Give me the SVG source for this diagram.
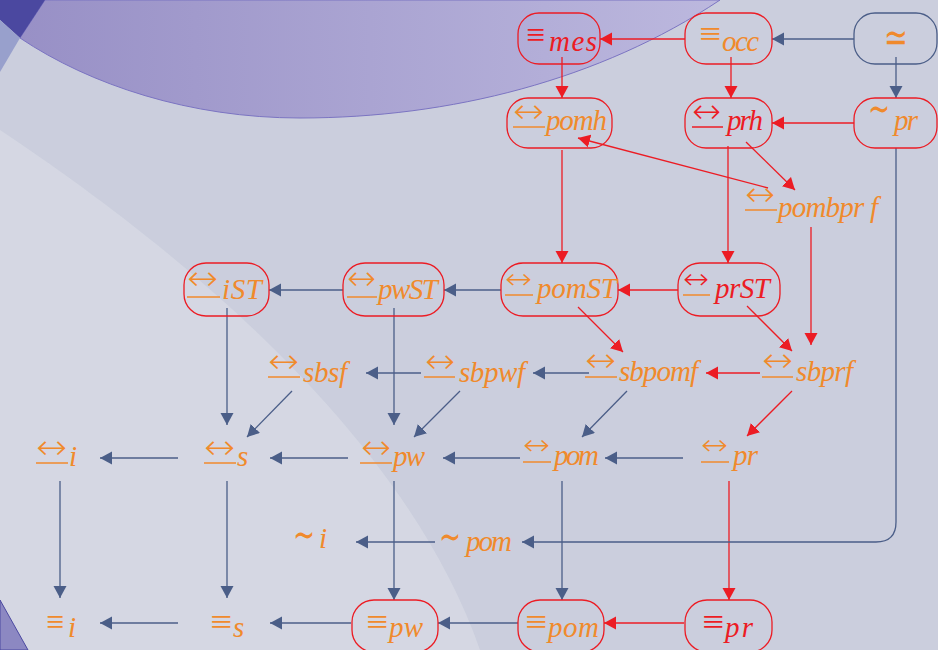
<svg xmlns="http://www.w3.org/2000/svg" width="938" height="650" viewBox="0 0 938 650">
<style>
.t{font-family:"Liberation Serif","Times New Roman",serif;font-style:italic;font-size:29px}
.ar{font-family:"DejaVu Sans",sans-serif;font-style:normal;font-weight:200;font-size:34px}
.ar2{font-family:"DejaVu Sans",sans-serif;font-style:normal;font-weight:200;font-size:29px}
.sy{font-family:"Liberation Serif","DejaVu Sans",serif;font-style:normal;font-size:34px}
.tl{font-family:"DejaVu Sans",sans-serif;font-style:normal;font-size:40px}
.o{fill:#f08a2c}
.r{fill:#ec1c24}
.ulo{stroke:#f08a2c;stroke-width:1.5}
.ulr{stroke:#ec1c24;stroke-width:1.5}
.box{fill:none;stroke:#ec1c24;stroke-width:1.3}
.boxb{fill:none;stroke:#4b5e88;stroke-width:1.3}
.cr{fill:none;stroke:#ec1c24;stroke-width:1.3;marker-end:url(#mr)}
.cb{fill:none;stroke:#4b5e88;stroke-width:1.3;marker-end:url(#mb)}
</style>
<defs>
<marker id="mr" markerUnits="userSpaceOnUse" markerWidth="13" markerHeight="14" refX="12" refY="6.5" orient="auto"><path d="M0,0 L12,6.5 L0,13 Z" fill="#ec1c24"/></marker>
<marker id="mb" markerUnits="userSpaceOnUse" markerWidth="13" markerHeight="14" refX="12" refY="6.5" orient="auto"><path d="M0,0 L12,6.5 L0,13 Z" fill="#4b5e88"/></marker>
<linearGradient id="pg" x1="0" y1="0" x2="1" y2="0"><stop offset="0" stop-color="#9890c6"/><stop offset="1" stop-color="#bcb8de"/></linearGradient>
</defs>
<g id="background">
<rect x="0" y="0" width="938" height="650" fill="#cbcedd"/>
<path d="M0,130 C150,230 400,420 480,650 L0,650 Z" fill="#d9dbe6" opacity="0.7"/>
<path d="M45,0 L20,38 C90,85 190,118 300,118 C450,118 600,80 720,0 Z" fill="url(#pg)" stroke="#7b74c2" stroke-width="1"/>
<polygon points="0,0 45,0 20,38 0,20" fill="#4b48a0"/>
<polygon points="0,20 20,38 0,72" fill="#98a0cc"/>
<polygon points="0,600 28,650 0,650" fill="#8c88c2" stroke="#4b48a0" stroke-width="1"/>
</g>
<g id="connectors">
<line class="cr" x1="685" y1="39" x2="600" y2="39"/>
<line class="cr" x1="562" y1="57" x2="562" y2="98"/>
<line class="cr" x1="731" y1="57" x2="731" y2="98"/>
<line class="cr" x1="854" y1="123" x2="772" y2="123"/>
<line class="cr" x1="746" y1="142" x2="795" y2="190"/>
<line class="cr" x1="768" y1="188" x2="578" y2="138"/>
<line class="cr" x1="562" y1="150" x2="562" y2="263"/>
<line class="cr" x1="728" y1="146" x2="728" y2="263"/>
<line class="cr" x1="811" y1="227" x2="811" y2="345"/>
<line class="cr" x1="678" y1="290" x2="618" y2="290"/>
<line class="cr" x1="578" y1="307" x2="623" y2="352"/>
<line class="cr" x1="747" y1="306" x2="792" y2="351"/>
<line class="cr" x1="760" y1="373" x2="706" y2="373"/>
<line class="cr" x1="792" y1="391" x2="747" y2="436"/>
<line class="cr" x1="729" y1="481" x2="729" y2="600"/>
<line class="cr" x1="684" y1="623" x2="604" y2="623"/>
<line class="cb" x1="854" y1="39" x2="772" y2="39"/>
<line class="cb" x1="896" y1="57" x2="896" y2="98"/>
<path class="cb" d="M896,148 L896,522 Q896,542 876,542 L522,542"/>
<line class="cb" x1="501" y1="290" x2="444" y2="290"/>
<line class="cb" x1="343" y1="290" x2="269" y2="290"/>
<line class="cb" x1="227" y1="308" x2="227" y2="425"/>
<line class="cb" x1="394" y1="308" x2="394" y2="425"/>
<line class="cb" x1="421" y1="373" x2="366" y2="373"/>
<line class="cb" x1="589" y1="373" x2="533" y2="373"/>
<line class="cb" x1="292" y1="391" x2="247" y2="437"/>
<line class="cb" x1="460" y1="391" x2="414" y2="437"/>
<line class="cb" x1="627" y1="391" x2="582" y2="437"/>
<line class="cb" x1="683" y1="458" x2="605" y2="458"/>
<line class="cb" x1="520" y1="458" x2="443" y2="458"/>
<line class="cb" x1="348" y1="458" x2="270" y2="458"/>
<line class="cb" x1="178" y1="458" x2="100" y2="458"/>
<line class="cb" x1="60" y1="481" x2="60" y2="598"/>
<line class="cb" x1="227" y1="481" x2="227" y2="598"/>
<line class="cb" x1="394" y1="481" x2="394" y2="600"/>
<line class="cb" x1="562" y1="481" x2="562" y2="600"/>
<line class="cb" x1="435" y1="542" x2="356" y2="542"/>
<line class="cb" x1="351" y1="623" x2="270" y2="623"/>
<line class="cb" x1="178" y1="623" x2="100" y2="623"/>
<line class="cb" x1="518" y1="623" x2="438" y2="623"/>
</g>
<g id="n-mes"><rect class="box" x="518" y="13" width="82" height="51" rx="21"/><text class="sy r" x="526" y="46" textLength="19" lengthAdjust="spacingAndGlyphs">≡</text><text class="t r" x="549" y="51" textLength="48">mes</text></g>
<g id="n-occ"><rect class="box" x="685" y="13" width="87" height="51" rx="21"/><text class="sy o" x="699" y="45" textLength="22" lengthAdjust="spacingAndGlyphs">≡</text><text class="t o" x="722" y="51" textLength="37">occ</text></g>
<g id="n-simeq"><rect class="boxb" x="854" y="13" width="83" height="51" rx="21"/><text class="tl o" x="884" y="51" textLength="24" lengthAdjust="spacingAndGlyphs">≃</text></g>
<g id="n-pomh"><rect class="box" x="507" y="98" width="105" height="50" rx="21"/><text class="ar o" x="513" y="123" textLength="31" lengthAdjust="spacingAndGlyphs">↔</text><line class="ulo" x1="513" y1="127" x2="545" y2="127"/><text class="t o" x="546" y="130" textLength="61">pomh</text></g>
<g id="n-prh"><rect class="box" x="685" y="98" width="87" height="50" rx="21"/><text class="ar r" x="692" y="123" textLength="29" lengthAdjust="spacingAndGlyphs">↔</text><line class="ulr" x1="692" y1="127" x2="723" y2="127"/><text class="t r" x="727" y="130" textLength="36">prh</text></g>
<g id="n-simpr"><rect class="box" x="854" y="98" width="83" height="50" rx="21"/><text class="tl o" x="868" y="122" textLength="22" lengthAdjust="spacingAndGlyphs">∼</text><text class="t o" x="894" y="130" textLength="24">pr</text></g>
<g id="n-pombprf"><text class="ar o" x="745" y="206" textLength="30" lengthAdjust="spacingAndGlyphs">↔</text><line class="ulo" x1="745" y1="210" x2="777" y2="210"/><text class="t o" x="778" y="217" textLength="100">pombpr f</text></g>
<g id="n-iST"><rect class="box" x="184" y="263" width="85" height="53" rx="22"/><text class="ar o" x="187" y="290" textLength="31" lengthAdjust="spacingAndGlyphs">↔</text><line class="ulo" x1="187" y1="297" x2="220" y2="297"/><text class="t o" x="222" y="299" textLength="40">iST</text></g>
<g id="n-pwST"><rect class="box" x="343" y="263" width="101" height="53" rx="22"/><text class="ar o" x="347" y="290" textLength="29" lengthAdjust="spacingAndGlyphs">↔</text><line class="ulo" x1="347" y1="297" x2="377" y2="297"/><text class="t o" x="378" y="299" textLength="60">pwST</text></g>
<g id="n-pomST"><rect class="box" x="501" y="263" width="117" height="53" rx="22"/><text class="ar2 o" x="505" y="289" textLength="27" lengthAdjust="spacingAndGlyphs">↔</text><line class="ulo" x1="505" y1="295" x2="533" y2="295"/><text class="t o" x="537" y="298" textLength="80">pomST</text></g>
<g id="n-prST"><rect class="box" x="678" y="263" width="102" height="53" rx="22"/><text class="ar2 r" x="683" y="289" textLength="26" lengthAdjust="spacingAndGlyphs">↔</text><line class="ulo" x1="683" y1="295" x2="710" y2="295"/><text class="t r" x="715" y="298" textLength="55">prST</text></g>
<g id="n-sbsf"><text class="ar o" x="268" y="373" textLength="31" lengthAdjust="spacingAndGlyphs">↔</text><line class="ulo" x1="268" y1="377" x2="300" y2="377"/><text class="t o" x="303" y="382" textLength="44">sbsf</text></g>
<g id="n-sbpwf"><text class="ar o" x="425" y="373" textLength="30" lengthAdjust="spacingAndGlyphs">↔</text><line class="ulo" x1="424" y1="377" x2="455" y2="377"/><text class="t o" x="459" y="382" textLength="66">sbpwf</text></g>
<g id="n-sbpomf"><text class="ar o" x="585" y="372" textLength="31" lengthAdjust="spacingAndGlyphs">↔</text><line class="ulo" x1="585" y1="377" x2="617" y2="377"/><text class="t o" x="619" y="381" textLength="79">sbpomf</text></g>
<g id="n-sbprf"><text class="ar o" x="762" y="372" textLength="31" lengthAdjust="spacingAndGlyphs">↔</text><line class="ulo" x1="762" y1="377" x2="793" y2="377"/><text class="t o" x="796" y="381" textLength="57">sbprf</text></g>
<g id="n-i"><text class="ar o" x="36" y="459" textLength="31" lengthAdjust="spacingAndGlyphs">↔</text><line class="ulo" x1="36" y1="463" x2="68" y2="463"/><text class="t o" x="69" y="466">i</text></g>
<g id="n-s"><text class="ar o" x="204" y="459" textLength="31" lengthAdjust="spacingAndGlyphs">↔</text><line class="ulo" x1="204" y1="463" x2="236" y2="463"/><text class="t o" x="237" y="466">s</text></g>
<g id="n-pw"><text class="ar o" x="361" y="459" textLength="30" lengthAdjust="spacingAndGlyphs">↔</text><line class="ulo" x1="360" y1="463" x2="392" y2="463"/><text class="t o" x="393" y="466" textLength="32">pw</text></g>
<g id="n-pom"><text class="ar2 o" x="523" y="455" textLength="27" lengthAdjust="spacingAndGlyphs">↔</text><line class="ulo" x1="523" y1="462" x2="551" y2="462"/><text class="t o" x="554" y="465" textLength="45">pom</text></g>
<g id="n-pr"><text class="ar2 o" x="701" y="455" textLength="27" lengthAdjust="spacingAndGlyphs">↔</text><line class="ulo" x1="701" y1="462" x2="729" y2="462"/><text class="t o" x="733" y="465" textLength="25">pr</text></g>
<g id="n-simi"><text class="tl o" x="293" y="548" textLength="22" lengthAdjust="spacingAndGlyphs">∼</text><text class="t o" x="319" y="548">i</text></g>
<g id="n-simpom"><text class="tl o" x="439" y="550" textLength="22" lengthAdjust="spacingAndGlyphs">∼</text><text class="t o" x="466" y="551" textLength="46">pom</text></g>
<g id="n-eqi"><text class="sy o" x="46" y="633" textLength="18" lengthAdjust="spacingAndGlyphs">≡</text><text class="t o" x="68" y="637">i</text></g>
<g id="n-eqs"><text class="sy o" x="210" y="633" textLength="22" lengthAdjust="spacingAndGlyphs">≡</text><text class="t o" x="233" y="637">s</text></g>
<g id="n-eqpw"><rect class="box" x="352" y="600" width="86" height="52" rx="22"/><text class="sy o" x="366" y="633" textLength="22" lengthAdjust="spacingAndGlyphs">≡</text><text class="t o" x="389" y="637" textLength="34">pw</text></g>
<g id="n-eqpom"><rect class="box" x="518" y="600" width="86" height="52" rx="22"/><text class="sy o" x="525" y="633" textLength="22" lengthAdjust="spacingAndGlyphs">≡</text><text class="t o" x="548" y="637" textLength="51">pom</text></g>
<g id="n-eqpr"><rect class="box" x="685" y="600" width="87" height="52" rx="22"/><text class="sy r" x="702" y="633" textLength="22" lengthAdjust="spacingAndGlyphs">≡</text><text class="t r" x="725" y="637" textLength="28">pr</text></g>
</svg>
